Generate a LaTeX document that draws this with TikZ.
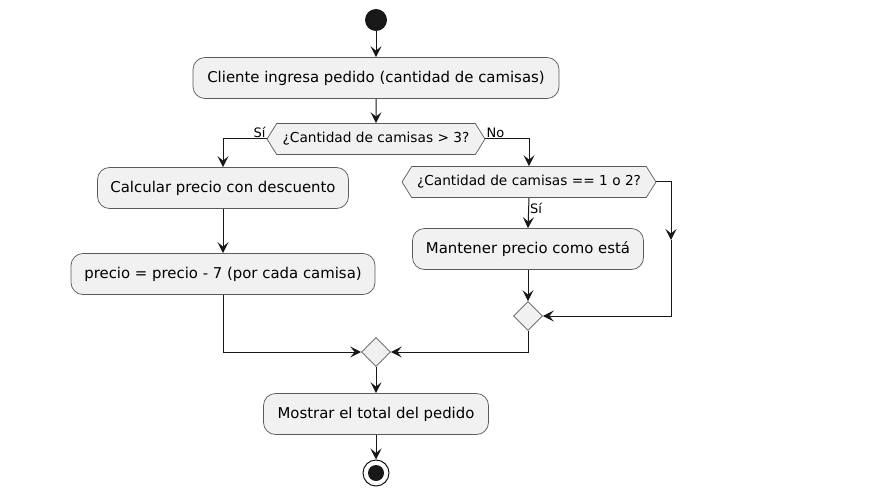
\documentclass[tikz,border=0pt]{standalone}
\usepackage{fontspec}
\setmainfont{DejaVu Sans}
\usetikzlibrary{shapes.symbols, shapes.geometric}
\usetikzlibrary{arrows.meta}
\definecolor{boxfill}{HTML}{F1F1F1}
\definecolor{linecol}{HTML}{181818}
\definecolor{boxline}{HTML}{5A5A5A}

\tikzset{
  action/.style={draw=boxline, fill=boxfill, line width=0.7pt, rounded corners=12pt,
    minimum height=41pt, inner sep=0pt, font=\fontsize{14.9}{17}\selectfont},
  decision/.style={draw=boxline, fill=boxfill, line width=0.7pt, signal, signal to=west and east,
    signal pointer angle=116, minimum height=31pt, inner sep=2pt, font=\fontsize{13.7}{16}\selectfont},
  merge/.style={draw=boxline, fill=boxfill, line width=0.7pt, diamond, minimum size=29pt, inner sep=0pt},
  flow/.style={draw=linecol, line width=1pt, >={Stealth[length=11pt,width=11pt,inset=4.5pt]}},
  guard/.style={font=\fontsize{13}{15}\selectfont, inner sep=1pt}
}

\begin{document}
\begin{tikzpicture}[x=1pt, y=-1pt]
    \useasboundingbox[fill=white] (0,0) rectangle (872,497);
    % start and first action
    \node[circle, fill=linecol, minimum size=22pt, inner sep=0pt] (start) at (376,20) {};
    \node[action, minimum width=366pt] (pedido) at (376,78) {Cliente ingresa pedido (cantidad de camisas)};
    \node[decision, minimum width=218pt] (mayor) at (376,139) {¿Cantidad de camisas > 3?};
    % left branch
    \node[action, minimum width=251pt] (descuento) at (223,188) {Calcular precio con descuento};
    \node[action, minimum width=304pt] (resta) at (223,274) {precio = precio - 7 (por cada camisa)};
    % right branch
    \node[decision, minimum width=254pt] (pocas) at (529,182) {¿Cantidad de camisas == 1 o 2?};
    \node[action, minimum width=231pt] (mantener) at (528,249) {Mantener precio como está};
    \node[merge] (unir2) at (528,316) {};
    \coordinate (rodeo) at (671,240);
    % end
    \node[merge] (unir1) at (376,352) {};
    \node[action, minimum width=225pt] (total) at (376,414) {Mostrar el total del pedido};
    \node[circle, draw=linecol, fill=white, line width=1pt, minimum size=26pt, inner sep=0pt] (stop) at (376,473) {};
    \node[circle, fill=linecol, minimum size=16pt, inner sep=0pt] at (stop) {};

    \draw[flow,->] (start) -- (pedido);
    \draw[flow,->] (pedido) -- (mayor);
    \draw[flow,->] (mayor.west) -| (descuento.north);
    \node[guard, anchor=south east] at (mayor.west) {Sí};
    \draw[flow,->] (descuento) -- (resta);
    \draw[flow,->] (resta.south) |- (unir1.west);
    \draw[flow,->] (mayor.east) -| (pocas.north);
    \node[guard, anchor=south west] at (mayor.east) {No};
    \draw[flow,->] (pocas.south) -- node[guard, right, pos=0.35] {Sí} (mantener.north);
    \draw[flow,->] (mantener) -- (unir2);
    \draw[flow,->] (pocas.east) -| (rodeo);
    \draw[flow,->] (rodeo) |- (unir2.east);
    \draw[flow,->] (unir2.south) |- (unir1.east);
    \draw[flow,->] (unir1) -- (total);
    \draw[flow,->] (total) -- (stop);
\end{tikzpicture}
\end{document}
